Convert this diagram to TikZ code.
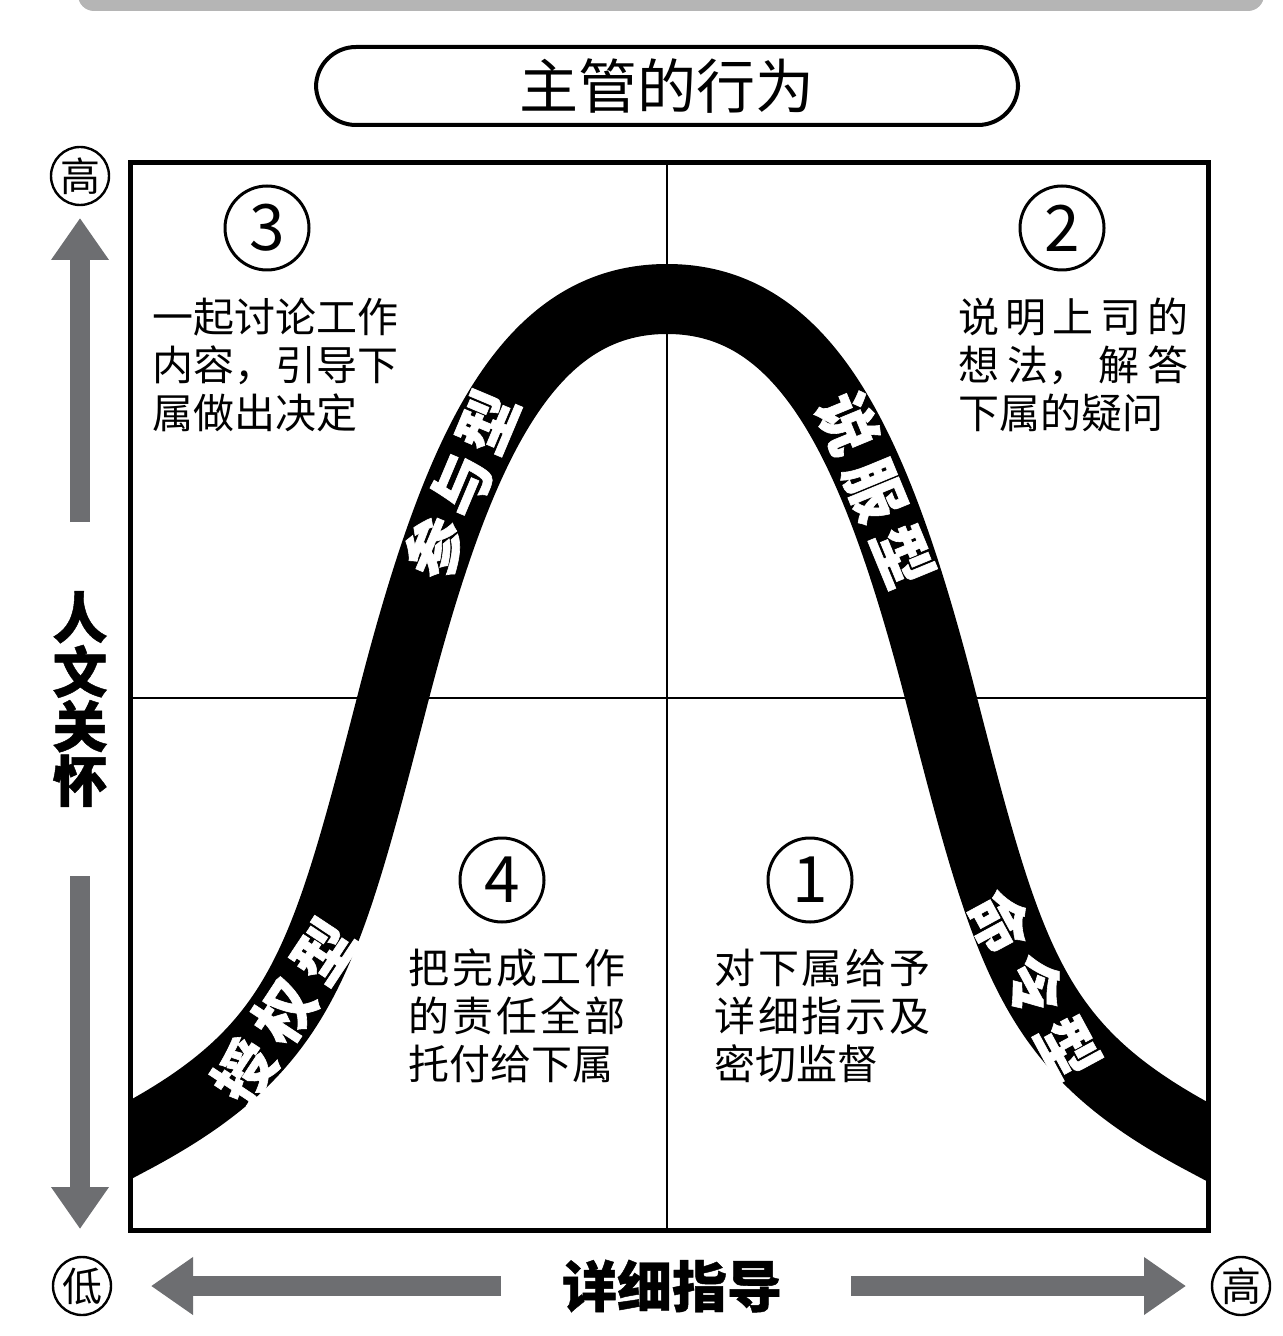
\documentclass[tikz,border=0pt]{standalone}
\usepackage{fontspec}
\setmainfont{Noto Sans CJK SC}
\usetikzlibrary{arrows.meta}
\definecolor{axisgray}{HTML}{6D6E71}
\definecolor{bargray}{HTML}{B5B5B5}
\newcommand{\spreadline}[2]{\makebox[#1][s]{#2}}

\begin{document}
\begin{tikzpicture}[x=0.5pt,y=-0.5pt,
  band/.style={line width=35pt, black},
  bandlabel/.style={sloped, text=white, inner sep=0pt, font=\bfseries\addfontfeature{FakeBold=1}\fontsize{30}{30}\selectfont},
  titlebox/.style={draw, line width=2pt, rounded corners=20pt, minimum width=351pt, minimum height=39pt, font=\fontsize{29.5}{29.5}\selectfont},
  quadtext/.style={anchor=west, align=left, inner sep=0pt, font=\fontsize{20.5}{24}\selectfont},
  numcircle/.style={circle, draw, line width=1.5pt, minimum size=42pt, inner sep=0pt, font=\fontsize{32}{32}\selectfont},
  levelcircle/.style={circle, draw, line width=1.2pt, minimum size=29pt, inner sep=0pt, font=\fontsize{20}{20}\selectfont},
  axislabel/.style={inner sep=0pt, font=\bfseries\addfontfeature{FakeBold=0.8}\fontsize{27.5}{27.25}\selectfont},
  axisarrow/.style={draw=axisgray, line width=10pt, -{Triangle[width=27.5pt,length=21pt]}}]
\useasboundingbox (0,0) rectangle (1282,1336);

% top bar
\fill[bargray, rounded corners=8pt] (78,-40) rectangle (1264,11);

% title
\node[titlebox] (title) at (667,86) {主管的行为};

% quadrant lines
\draw[line width=1pt] (667,163) -- (667,1230);
\draw[line width=1pt] (130,698) -- (1208,698);

% bell curve
\begin{scope}
\clip (130,163) rectangle (1208,1230);
\draw[band] (100,1156) -- (130,1140)
  .. controls (302,1049) and (324,965) .. (393,698)
     node[bandlabel, pos=0.43] (delegating) {授\hspace{6pt}权\hspace{6pt}型}
  .. controls (458,446) and (527,299) .. (667,299)
     node[bandlabel, pos=0.33] (participating) {参\hspace{4pt}与\hspace{4pt}型}
  .. controls (807,299) and (876,446) .. (941,698)
     node[bandlabel, pos=0.68] (selling) {说\hspace{6pt}服\hspace{6pt}型}
  .. controls (1010,965) and (1032,1049) .. (1204,1140)
     node[bandlabel, pos=0.5] (telling) {命\hspace{6pt}令\hspace{6pt}型}
  -- (1234,1156);
\end{scope}

% frame
\draw[line width=2.5pt] (130,163) rectangle (1208,1230);

% quadrants
\node[numcircle] (q3) at (267,228) {3};
\node[numcircle] (q2) at (1062,228) {2};
\node[numcircle] (q4) at (502,880) {4};
\node[numcircle] (q1) at (810,880) {1};

\node[quadtext] (t3) at (152,365) {一起讨论工作\\内容，引导下\\属做出决定};
\node[quadtext] (t2) at (958,365) {\spreadline{115pt}{说\hfill 明\hfill 上\hfill 司\hfill 的}\\
  \spreadline{115pt}{想\hfill 法，\hfill 解\hfill 答}\\下属的疑问};
\node[quadtext] (t4) at (408,1016) {\spreadline{108.5pt}{把\hfill 完\hfill 成\hfill 工\hfill 作}\\
  \spreadline{108.5pt}{的\hfill 责\hfill 任\hfill 全\hfill 部}\\托付给下属};
\node[quadtext] (t1) at (714,1016) {\spreadline{108pt}{对\hfill 下\hfill 属\hfill 给\hfill 予}\\
  \spreadline{108pt}{详\hfill 细\hfill 指\hfill 示\hfill 及}\\密切监督};

% vertical axis
\node[levelcircle] (yhigh) at (80,176) {高};
\node[axislabel, align=center] (care) at (80,699) {人\\文\\关\\怀};
\coordinate (upstart) at (80,522);
\coordinate (uptip) at (80,218);
\coordinate (downstart) at (80,876);
\coordinate (downtip) at (80,1229);
\draw[axisarrow] (upstart) -- (uptip);
\draw[axisarrow] (downstart) -- (downtip);

% horizontal axis
\node[levelcircle] (xlow) at (82,1286) {低};
\node[levelcircle] (xhigh) at (1241,1286) {高};
\node[axislabel] (guidance) at (672,1286) {详细指导};
\coordinate (leftstart) at (501,1286);
\coordinate (lefttip) at (151,1286);
\coordinate (rightstart) at (851,1286);
\coordinate (righttip) at (1186,1286);
\draw[axisarrow] (leftstart) -- (lefttip);
\draw[axisarrow] (rightstart) -- (righttip);
\end{tikzpicture}
\end{document}
